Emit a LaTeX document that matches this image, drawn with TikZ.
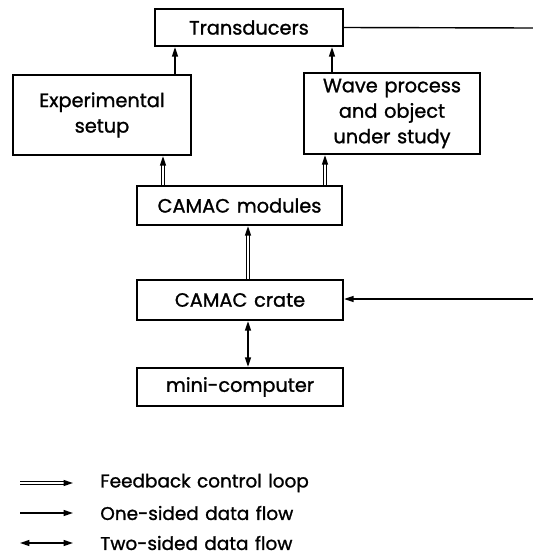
\documentclass[tikz,border=0pt]{standalone}
\usepackage{fontspec}
\setmainfont{Poppins}[WordSpace={1.3}, FakeBold=1.2]
\usepackage{tikz}
\usetikzlibrary{arrows.meta}

\begin{document}
\begin{tikzpicture}[x=0.02cm, y=-0.02cm, font=\fontsize{11}{14.5}\selectfont,
  >={Triangle[length=1.9mm, width=1.2mm]},
  bx/.style={draw, line width=1.3pt, align=center, inner sep=0pt},
  one/.style={->, line width=0.8pt},
  two/.style={<->, line width=0.8pt},
  fb/.style={->, double, double distance=0.9pt, line width=0.8pt},
  key/.style={anchor=west, inner sep=0pt, font=\fontsize{10.5}{13}\selectfont}]

\useasboundingbox (0,0) rectangle (533,555);

% blocks
\node[bx, minimum width=3.76cm, minimum height=0.74cm] (trans) at (249, 27.5) {Transducers};
\node[bx, minimum width=3.56cm, minimum height=1.6cm]  (exp)   at (102, 115)
  {Experimental\\setup};
\node[bx, minimum width=3.52cm, minimum height=1.62cm] (wave)  at (392, 113.5)
  {Wave process\\and object\\under study};
\node[bx, minimum width=4.1cm, minimum height=0.78cm]  (mod)   at (239.5, 205.5) {CAMAC modules};
\node[bx, minimum width=4.12cm, minimum height=0.8cm]  (crate) at (240, 300) {CAMAC crate};
\node[bx, minimum width=4.12cm, minimum height=0.76cm] (mini)  at (240, 387) {mini-computer};

% free ends at the right edge
\coordinate (outT) at (533, 28);
\coordinate (outC) at (533, 299);

% connectors
\draw[one] (exp.north -| 175,0) -- (trans.south -| 175,0);
\draw[one] (wave.north -| 332,0) -- (trans.south -| 332,0);
\draw[fb] (mod.north -| 163,0) -- (exp.south -| 163,0);
\draw[fb] (mod.north -| 325,0) -- (wave.south -| 325,0);
\draw[fb] (crate.north -| 248,0) -- (mod.south -| 248,0);
\draw[two] (crate.south -| 248,0) -- (mini.north -| 248,0);
\draw[line width=0.8pt] (trans.east) -- (outT);
\draw[one] (outC) -- (crate.east |- outC);

% legend
\coordinate (l1a) at (20, 483); \coordinate (l1b) at (73, 483);
\coordinate (l2a) at (20, 513); \coordinate (l2b) at (73, 513);
\coordinate (l3a) at (20, 543); \coordinate (l3b) at (73, 543);
\draw[fb] (l1a) -- (l1b);
\draw[one] (l2a) -- (l2b);
\draw[two] (l3a) -- (l3b);
\node[key] (k1) at (100, 483) {Feedback control loop};
\node[key] (k2) at (100, 513) {One-sided data flow};
\node[key] (k3) at (100, 543) {Two-sided data flow};
\end{tikzpicture}
\end{document}
